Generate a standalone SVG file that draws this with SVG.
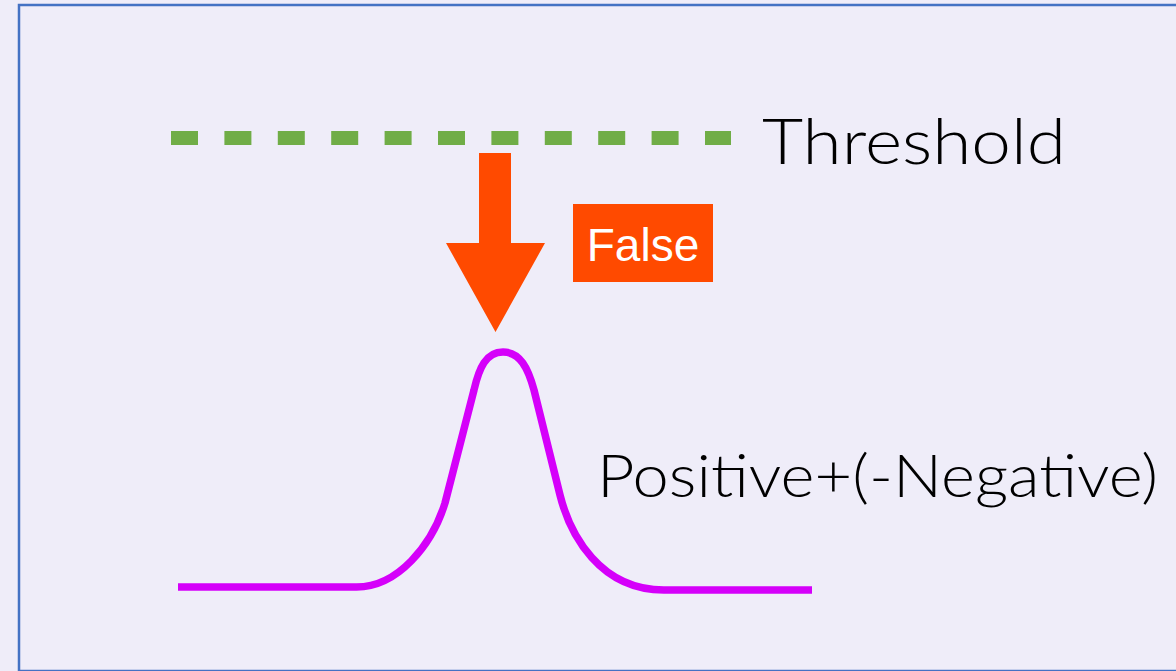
<svg xmlns="http://www.w3.org/2000/svg" width="1176" height="671" viewBox="0 0 1176 671">
  <style>
    .label { font-family: Lato, "Open Sans", "Liberation Sans", sans-serif; font-weight: 300; fill: #000000; }
    .tag { font-family: "Liberation Sans", Arial, sans-serif; fill: #ffffff; }
  </style>
  <rect x="0" y="0" width="1176" height="671" fill="#EFEDF9"/>
  <rect id="frame" x="19" y="5" width="1200" height="666" fill="#EFEDF9" stroke="#4472C4" stroke-width="2.5"/>

  <g id="threshold">
    <line x1="171" y1="138" x2="731" y2="138" stroke="#70AD47" stroke-width="14" stroke-dasharray="27 26.4"/>
    <text class="label" x="762" y="164" font-size="64" textLength="304" lengthAdjust="spacingAndGlyphs">Threshold</text>
  </g>

  <g id="connectors">
    <polygon id="arrow" points="479,153 511,153 511,243 545,243 495.5,332 446,243 479,243" fill="#FF4A00"/>
  </g>

  <g id="false-tag">
    <rect x="573" y="204" width="140" height="78" fill="#FF4A00"/>
    <text class="tag" x="643" y="261" font-size="46" text-anchor="middle">False</text>
  </g>

  <g id="curve">
    <path d="M178,587 L356.5,587 C398,587 432,545 445,503 L474,390 C479,368 486,352 503,352 C520,352 528,368 534,390 L560,495 C570,535 600,590 664,590 L812,590" fill="none" stroke="#D500FA" stroke-width="7.5" stroke-linejoin="round"/>
    <text class="label" x="597" y="497" font-size="60" textLength="561" lengthAdjust="spacingAndGlyphs">Positive+(-Negative)</text>
  </g>
</svg>
